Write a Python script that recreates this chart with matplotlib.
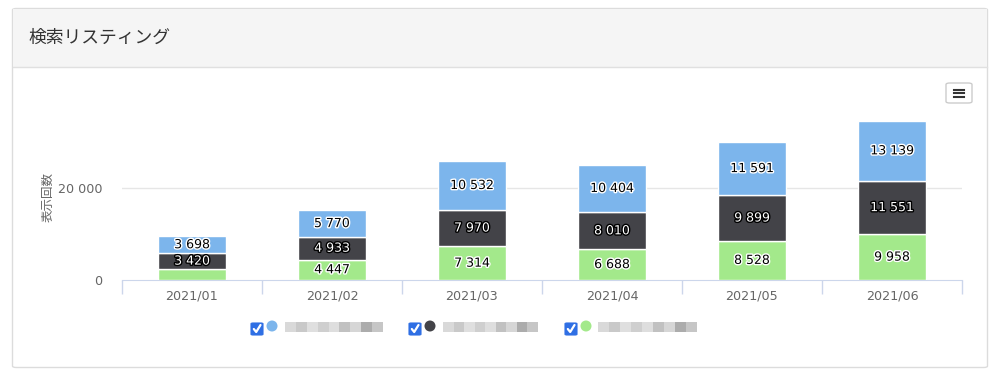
import matplotlib
matplotlib.use("Agg")
import matplotlib.pyplot as plt
import matplotlib.patheffects as pe
from matplotlib.patches import FancyBboxPatch, Rectangle, Ellipse
import numpy as np

plt.rcParams['font.family'] = ['DejaVu Sans', 'Noto Sans CJK JP']
JP = ['Noto Sans CJK JP', 'DejaVu Sans']

# data
months = ["2021/01", "2021/02", "2021/03", "2021/04", "2021/05", "2021/06"]
green_vals = [2400, 4447, 7314, 6688, 8528, 9958]
dark_vals = [3420, 4933, 7970, 8010, 9899, 11551]
blue_vals = [3698, 5770, 10532, 10404, 11591, 13139]
y_ticks = [0, 20000]
y_tick_labels = ["0", "20 000"]

c_blue = "#7cb5ec"
c_dark = "#434348"
c_green = "#a3e98b"

W, H = 1000, 380
fig = plt.figure(figsize=(10, 3.8), dpi=100)
fig.patch.set_facecolor("white")


def px(x, y):
    # pixel coords (from top-left) -> figure fraction
    return x / W, 1 - y / H


# card
card = FancyBboxPatch(px(12.5, 367.5), 975 / W, 359 / H, boxstyle="round,pad=0,rounding_size=0.004",
                      transform=fig.transFigure, facecolor="white", edgecolor="#dcdcdc", lw=1, zorder=-5)
fig.patches.append(card)
fig.patches.append(Rectangle(px(13, 67), 974 / W, 58 / H, transform=fig.transFigure,
                             facecolor="#f5f5f5", edgecolor="none", zorder=-4))
fig.lines.append(plt.Line2D([13 / W, 987 / W], [1 - 67 / H] * 2, transform=fig.transFigure,
                            color="#e0e0e0", lw=1, zorder=-3))
fig.text(28 / W, 1 - 38 / H, "検索リスティング", fontsize=12.8, color="#333333", va="center", ha="left",
         family=JP)

# menu button
fig.patches.append(FancyBboxPatch(px(946, 103), 26 / W, 20 / H, boxstyle="round,pad=0,rounding_size=0.004",
                                  transform=fig.transFigure, facecolor="white", edgecolor="#cccccc", lw=1,
                                  zorder=-3))
for yy in (89.5, 93, 96.5):
    fig.lines.append(plt.Line2D([954 / W, 964 / W], [1 - yy / H] * 2, transform=fig.transFigure,
                                color="#333333", lw=1.5, zorder=-2))

# axes
ax = fig.add_axes([122 / W, 1 - 280 / H, 840 / W, 184 / H])
ax.set_facecolor("none")
x = np.arange(len(months))
bw = 0.48
bottom2 = np.array(green_vals)
bottom3 = bottom2 + np.array(dark_vals)
ax.bar(x, green_vals, bw, color=c_green, edgecolor="white", lw=1, zorder=3)
ax.bar(x, dark_vals, bw, bottom=bottom2, color=c_dark, edgecolor="white", lw=1, zorder=3)
ax.bar(x, blue_vals, bw, bottom=bottom3, color=c_blue, edgecolor="white", lw=1, zorder=3)

ax.set_xlim(-0.5, len(months) - 0.5)
ax.set_ylim(0, 40000)
ax.set_yticks(y_ticks)
ax.set_yticklabels(y_tick_labels)
ax.axhline(20000, color="#e6e6e6", lw=1, zorder=1)
for s in ("top", "right", "left"):
    ax.spines[s].set_visible(False)
ax.spines["bottom"].set_color("#ccd6eb")
ax.tick_params(axis="y", length=0, labelsize=9.2, labelcolor="#666666", pad=14)
ax.set_xticks(x)
ax.set_xticklabels(months)
ax.tick_params(axis="x", which="major", length=0, labelsize=9.2, labelcolor="#666666", pad=7)
ax.set_xticks(np.arange(-0.5, len(months)), minor=True)
ax.tick_params(axis="x", which="minor", length=10, color="#ccd6eb", width=1)
ax.set_ylabel("表示回数", fontsize=9, color="#666666", family=JP)
ax.yaxis.set_label_coords(-0.08, 0.45)


def fmt(v):
    return f"{v:,}".replace(",", " ")


def label(vals, bottoms, dark):
    for xi, v, b in zip(x, vals, bottoms):
        if v < 3000:
            continue
        col, outl = ("white", "black") if dark else ("black", "white")
        ax.text(xi, b + v / 2, fmt(v), ha="center", va="center", fontsize=9, fontweight="normal",
                color=col, zorder=5, path_effects=[pe.withStroke(linewidth=2, foreground=outl)])


label(green_vals, np.zeros(len(x)), False)
label(dark_vals, bottom2, True)
label(blue_vals, bottom3, False)

# legend (names are pixelated in the reference)
legend_items = [(251, c_blue, 285, 98), (409, c_dark, 443, 95), (565, c_green, 598, 99)]
grays = ["#d0d0d0", "#bcbcbc", "#d8d8d8", "#c4c4c4", "#d6d6d6", "#b2b2b2", "#cccccc", "#979797", "#b8b8b8"]
for cx, col, nx, nw in legend_items:
    fig.patches.append(FancyBboxPatch(px(cx, 335), 12 / W, 12 / H, boxstyle="round,pad=0,rounding_size=0.002",
                                      transform=fig.transFigure, facecolor="#2f6fe4", edgecolor="#2f6fe4", lw=0.8))
    fig.lines.append(plt.Line2D([(cx + 2.8) / W, (cx + 5.2) / W, (cx + 9.5) / W],
                                [1 - 329 / H, 1 - 332 / H, 1 - 325 / H], transform=fig.transFigure,
                                color="white", lw=1.6, solid_capstyle="round"))
    fig.patches.append(Ellipse(px(cx + 21, 326), 11 / W, 11 / H, transform=fig.transFigure, facecolor=col,
                               edgecolor="none"))
    seg = nw / len(grays)
    for i, g in enumerate(grays):
        fig.patches.append(Rectangle(px(nx + i * seg, 332), seg / W, 10 / H, transform=fig.transFigure,
                                     facecolor=g, edgecolor="none", alpha=0.8))

fig.savefig("out.png", dpi=100)
